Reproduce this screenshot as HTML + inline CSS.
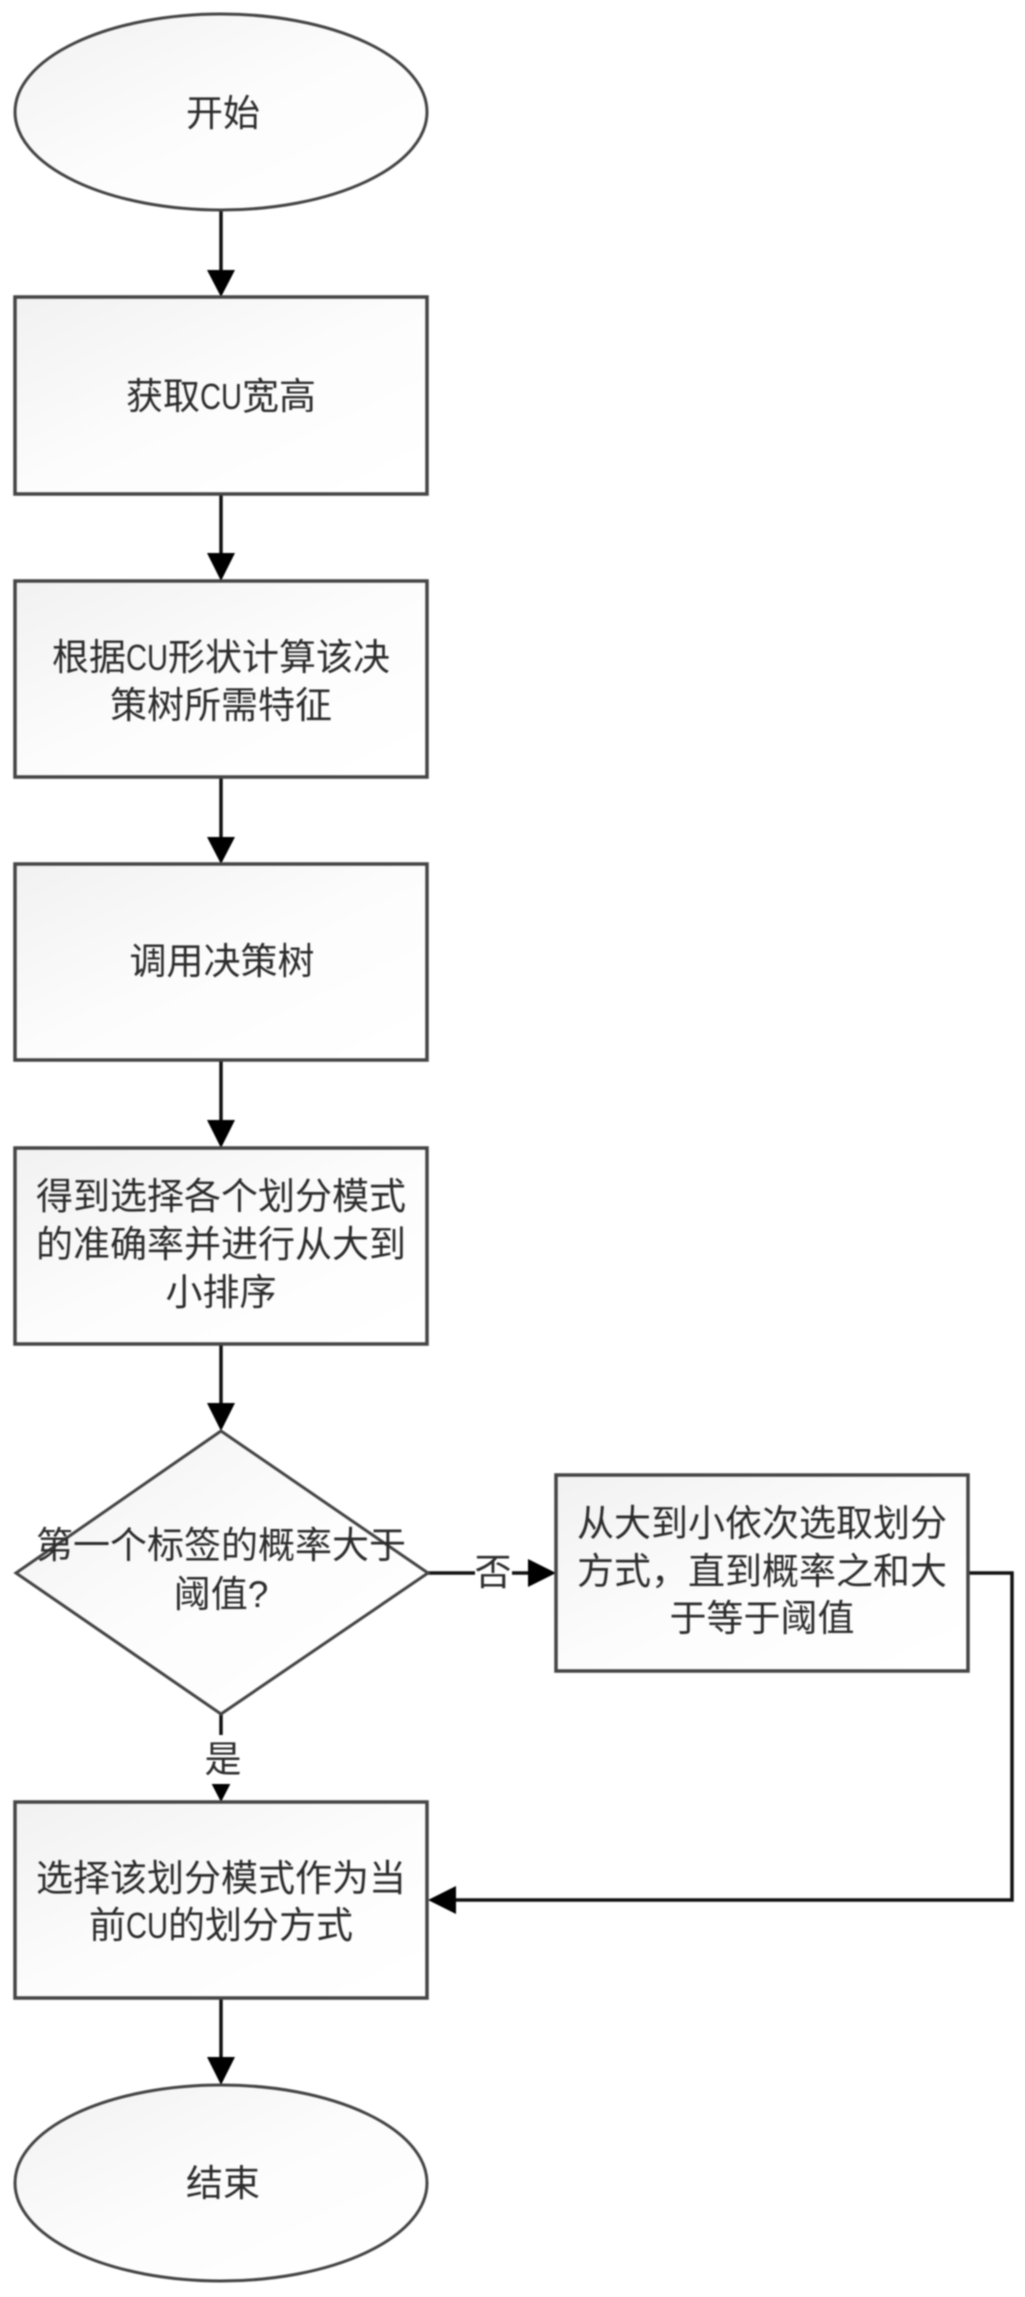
<!DOCTYPE html>
<html lang="zh">
<head>
<meta charset="utf-8">
<title>Flowchart</title>
<style>
html,body{margin:0;padding:0;background:#fff;width:1025px;height:2297px;overflow:hidden}
svg{display:block;filter:blur(.7px)}
text{font-family:"Liberation Sans","Noto Sans CJK SC",sans-serif;font-size:37px;fill:#2c2c2c;text-anchor:middle}
tspan{font-size:36px}
.s{fill:url(#g);stroke:#444;stroke-width:3.5}
.e{fill:url(#g);stroke:#444;stroke-width:3}
.l{fill:none;stroke:#111;stroke-width:3.5}
.a{fill:#000}
</style>
</head>
<body>
<svg width="1025" height="2297" viewBox="0 0 1025 2297" xmlns="http://www.w3.org/2000/svg">
<defs>
<linearGradient id="g" x1="0" y1="0" x2="1" y2="1">
<stop offset="0" stop-color="#f1f1f1"/>
<stop offset=".5" stop-color="#fcfcfc"/>
<stop offset="1" stop-color="#ffffff"/>
</linearGradient>
</defs>

<!-- connectors -->
<path class="l" d="M221 210V272M221 494V555M221 777V839M221 1060V1122M221 1344V1405M221 1714V1776M221 1998V2060"/>
<path class="l" d="M428 1573H530M968 1573H1012V1900H454"/>
<path class="a" d="M207 270H235L221 297ZM207 553H235L221 581ZM207 837H235L221 864ZM207 1120H235L221 1148ZM207 1403H235L221 1431ZM207 1775H235L221 1802ZM207 2057H235L221 2085Z"/>
<path class="a" d="M528 1559V1587L556 1573ZM456 1886V1914L428 1900Z"/>

<!-- shapes -->
<ellipse class="e" cx="221" cy="112" rx="206" ry="98"/>
<rect class="s" x="15" y="297" width="412" height="197"/>
<rect class="s" x="15" y="581" width="412" height="196"/>
<rect class="s" x="15" y="864" width="412" height="196"/>
<rect class="s" x="15" y="1148" width="412" height="196"/>
<path class="e" d="M221 1431L428 1573L221 1714L16 1573Z"/>
<rect class="s" x="556" y="1475" width="412" height="196"/>
<rect class="s" x="15" y="1802" width="412" height="196"/>
<ellipse class="e" cx="221" cy="2183" rx="206" ry="98"/>

<!-- label backgrounds -->
<rect x="475" y="1550" width="37" height="46" fill="#fff"/>
<rect x="202" y="1735" width="40" height="49" fill="#fff"/>

<!-- text -->
<text x="223" y="126">开始</text>
<text x="221" y="409">获取<tspan textLength="42" lengthAdjust="spacingAndGlyphs">CU</tspan>宽高</text>
<text x="221" y="670">根据<tspan textLength="42" lengthAdjust="spacingAndGlyphs">CU</tspan>形状计算该决</text>
<text x="221" y="718">策树所需特征</text>
<text x="222" y="974">调用决策树</text>
<text x="221" y="1209">得到选择各个划分模式</text>
<text x="221" y="1257">的准确率并进行从大到</text>
<text x="221" y="1305">小排序</text>
<text x="221" y="1558">第一个标签的概率大于</text>
<text x="221" y="1607">阈值?</text>
<text x="493" y="1585">否</text>
<text x="223" y="1772">是</text>
<text x="762" y="1536">从大到小依次选取划分</text>
<text x="762" y="1584">方式，直到概率之和大</text>
<text x="762" y="1631">于等于阈值</text>
<text x="221" y="1891">选择该划分模式作为当</text>
<text x="221" y="1938">前<tspan textLength="42" lengthAdjust="spacingAndGlyphs">CU</tspan>的划分方式</text>
<text x="223" y="2196">结束</text>
</svg>
</body>
</html>
